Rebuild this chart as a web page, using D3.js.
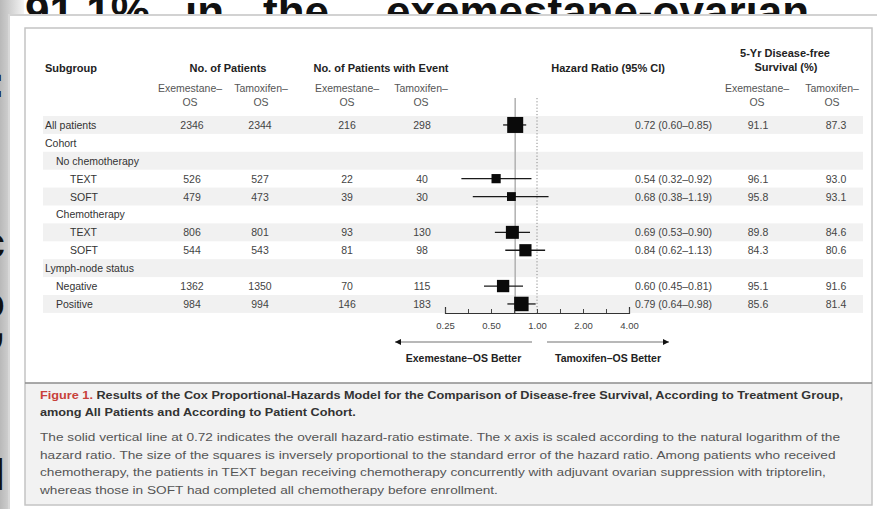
<!DOCTYPE html>
<html>
<head>
<meta charset="utf-8">
<script src="https://cdn.jsdelivr.net/npm/d3@7"></script>
<style>
  body { margin: 0; background: #fff; }
  svg { display: block; }
  .fig { font-family: "Liberation Sans", Arial, sans-serif; }
</style>
</head>
<body>
<svg id="chart" width="877" height="509"></svg>
<script>
// ---- data -------------------------------------------------------------
const subgroups = ["All patients", "Cohort", "No chemotherapy", "TEXT", "SOFT",
  "Chemotherapy", "TEXT", "SOFT", "Lymph-node status", "Negative", "Positive"];
const levels    = [0, 0, 1, 2, 2, 1, 2, 2, 0, 1, 1];
const patientsExe = [2346, null, null, 526, 479, null, 806, 544, null, 1362, 984];
const patientsTam = [2344, null, null, 527, 473, null, 801, 543, null, 1350, 994];
const eventsExe   = [216, null, null, 22, 39, null, 93, 81, null, 70, 146];
const eventsTam   = [298, null, null, 40, 30, null, 130, 98, null, 115, 183];
const hazard      = [0.72, null, null, 0.54, 0.68, null, 0.69, 0.84, null, 0.60, 0.79];
const ciLow       = [0.60, null, null, 0.32, 0.38, null, 0.53, 0.62, null, 0.45, 0.64];
const ciHigh      = [0.85, null, null, 0.92, 1.19, null, 0.90, 1.13, null, 0.81, 0.98];
const dfsExe      = [91.1, null, null, 96.1, 95.8, null, 89.8, 84.3, null, 95.1, 85.6];
const dfsTam      = [87.3, null, null, 93.0, 93.1, null, 84.6, 80.6, null, 91.6, 81.4];
const axisTicks   = [0.25, 0.5, 1, 2, 4];
const minorTicks  = [0.25, 0.3536, 0.5, 0.7071, 1, 1.4142, 2, 2.8284, 4];

const slideWords = ["91.1%", "in", "the", "exemestane-ovarian"];
const captionTitle = "Results of the Cox Proportional-Hazards Model for the Comparison of Disease-free Survival, According to Treatment Group,";
const captionTitle2 = "among All Patients and According to Patient Cohort.";
const captionBody = [
  "The solid vertical line at 0.72 indicates the overall hazard-ratio estimate. The x axis is scaled according to the natural logarithm of the",
  "hazard ratio. The size of the squares is inversely proportional to the standard error of the hazard ratio. Among patients who received",
  "chemotherapy, the patients in TEXT began receiving chemotherapy concurrently with adjuvant ovarian suppression with triptorelin,",
  "whereas those in SOFT had completed all chemotherapy before enrollment."
];

// ---- layout -----------------------------------------------------------
const svg = d3.select("#chart");
const defs = svg.append("defs");
const shade = defs.append("linearGradient").attr("id", "edgeShade");
shade.append("stop").attr("offset", "0").attr("stop-color", "#b9b9b9");
shade.append("stop").attr("offset", "1").attr("stop-color", "#f4f4f4");

// slide behind the figure
svg.append("rect").attr("width", 877).attr("height", 509).attr("fill", "#fff");
svg.append("rect").attr("width", 24).attr("height", 509).attr("fill", "url(#edgeShade)");

const slideText = svg.append("text")
  .attr("y", 27)
  .attr("font-family", "Liberation Sans, Arial, sans-serif")
  .attr("font-weight", "bold").attr("font-size", 44).attr("fill", "#111");
const wordX = [25, 185, 263, 386];
slideWords.forEach((w, i) => slideText.append("tspan").attr("x", wordX[i]).text(w));

// fragments of the slide's text lines peeking out at the left edge
const edge = svg.append("g")
  .attr("font-family", "Liberation Sans, Arial, sans-serif")
  .attr("font-weight", "bold").attr("font-size", 44).attr("fill", "#111")
  .attr("text-anchor", "end");
[[":", 97], ["c", 258], ["o", 318], [",", 340], ["l", 490]].forEach(([t, yy]) =>
  edge.append("text").attr("x", 5).attr("y", yy).text(t));

// figure panel
svg.append("rect").attr("x", 8).attr("y", 14).attr("width", 869).attr("height", 495)
  .attr("fill", "#fff");
svg.append("line").attr("x1", 8).attr("x2", 877).attr("y1", 15).attr("y2", 15)
  .attr("stroke", "#d2d2d2").attr("stroke-width", 2);
svg.append("line").attr("x1", 9).attr("x2", 9).attr("y1", 14).attr("y2", 509)
  .attr("stroke", "#d8d8d8").attr("stroke-width", 2);

const fig = svg.append("g").attr("class", "fig");

// caption box
fig.append("rect").attr("x", 25).attr("y", 383).attr("width", 847).attr("height", 122)
  .attr("fill", "#f2f2f2");
fig.append("rect").attr("x", 25).attr("y", 28).attr("width", 847).attr("height", 477)
  .attr("fill", "none").attr("stroke", "#c4c4c4").attr("stroke-width", 1.5);
fig.append("line").attr("x1", 25).attr("x2", 872).attr("y1", 383).attr("y2", 383)
  .attr("stroke", "#8c8c8c").attr("stroke-width", 1.5);

// scales
const rows = d3.range(subgroups.length);
const y = d3.scaleBand().domain(rows).range([116, 116 + 17.9 * rows.length]);
const cy = i => y(i) + y.bandwidth() / 2;
const x = d3.scaleLog().domain([0.25, 4]).range([445, 629]);

// inverse standard error from the 95% CI on the log scale
const invSE = rows.map(i => hazard[i] == null ? 0 :
  (2 * 1.96) / (Math.log(ciHigh[i]) - Math.log(ciLow[i])));
const side = d3.scaleSqrt().domain([0, d3.max(invSE)]).range([0, 16]);

// alternating row bands
fig.append("g").selectAll("rect").data(rows.filter(i => i % 2 === 0)).join("rect")
  .attr("x", 43).attr("width", 820)
  .attr("y", d => y(d)).attr("height", y.bandwidth())
  .attr("fill", "#f1f1f1");

// headers
const hdr = fig.append("g").attr("font-weight", "bold").attr("font-size", 11).attr("fill", "#222");
hdr.append("text").attr("x", 45).attr("y", 72).text("Subgroup");
hdr.append("text").attr("x", 228).attr("y", 72).attr("text-anchor", "middle").text("No. of Patients");
hdr.append("text").attr("x", 381).attr("y", 72).attr("text-anchor", "middle").text("No. of Patients with Event");
hdr.append("text").attr("x", 665).attr("y", 72).attr("text-anchor", "end").text("Hazard Ratio (95% CI)");
hdr.append("text").attr("x", 785).attr("y", 57).attr("text-anchor", "middle").text("5-Yr Disease-free");
hdr.append("text").attr("x", 786).attr("y", 71).attr("text-anchor", "middle").text("Survival (%)");

const sub = fig.append("g").attr("font-size", 10.5).attr("fill", "#555").attr("text-anchor", "middle");
[[190, 261], [347, 421], [757, 832]].forEach(([a, b]) => {
  sub.append("text").attr("x", a).attr("y", 92).text("Exemestane–");
  sub.append("text").attr("x", b).attr("y", 92).text("Tamoxifen–");
  sub.append("text").attr("x", a).attr("y", 106).text("OS");
  sub.append("text").attr("x", b).attr("y", 106).text("OS");
});

// table body
const body = fig.append("g").attr("font-size", 10.5).attr("fill", "#444");
const indent = [0, 11, 25];
body.selectAll("text.lab").data(rows).join("text").attr("class", "lab")
  .attr("x", i => 45 + indent[levels[i]]).attr("y", i => cy(i) + 4)
  .attr("fill", "#333").text(i => subgroups[i]);

const cols = [
  { vals: patientsExe, x: 192, fmt: String },
  { vals: patientsTam, x: 260, fmt: String },
  { vals: eventsExe, x: 347, fmt: String },
  { vals: eventsTam, x: 422, fmt: String },
  { vals: dfsExe, x: 758, fmt: v => v.toFixed(1) },
  { vals: dfsTam, x: 836, fmt: v => v.toFixed(1) }
];
cols.forEach(c => {
  body.append("g").attr("text-anchor", "middle").selectAll("text")
    .data(rows.filter(i => c.vals[i] != null)).join("text")
    .attr("x", c.x).attr("y", i => cy(i) + 4).text(i => c.fmt(c.vals[i]));
});
body.append("g").attr("text-anchor", "end").selectAll("text")
  .data(rows.filter(i => hazard[i] != null)).join("text")
  .attr("x", 712).attr("y", i => cy(i) + 4)
  .text(i => `${hazard[i].toFixed(2)} (${ciLow[i].toFixed(2)}–${ciHigh[i].toFixed(2)})`);

// forest plot
const plotTop = 98, plotBottom = 313;
fig.append("line").attr("x1", x(hazard[0])).attr("x2", x(hazard[0]))
  .attr("y1", plotTop).attr("y2", plotBottom)
  .attr("stroke", "#b5b5b5").attr("stroke-width", 1.6);
fig.append("line").attr("x1", x(1)).attr("x2", x(1))
  .attr("y1", plotTop).attr("y2", plotBottom)
  .attr("stroke", "#8a8a8a").attr("stroke-width", 1).attr("stroke-dasharray", "1.2,2");

const est = rows.filter(i => hazard[i] != null);
fig.append("g").selectAll("line").data(est).join("line")
  .attr("x1", i => x(ciLow[i])).attr("x2", i => x(ciHigh[i]))
  .attr("y1", cy).attr("y2", cy)
  .attr("stroke", "#1a1a1a").attr("stroke-width", 1.3);
fig.append("g").selectAll("rect").data(est).join("rect")
  .attr("x", i => x(hazard[i]) - side(invSE[i]) / 2)
  .attr("y", i => cy(i) - side(invSE[i]) / 2)
  .attr("width", i => side(invSE[i])).attr("height", i => side(invSE[i]))
  .attr("fill", "#0a0a0a");

// log axis, ticks pointing up
const axis = d3.axisBottom(x).tickValues(minorTicks).tickSizeInner(-4).tickSizeOuter(-6)
  .tickPadding(9).tickFormat(d => axisTicks.includes(d) ? d3.format(".2f")(d) : "");
const ax = fig.append("g").attr("transform", `translate(0,${plotBottom})`).call(axis);
ax.attr("font-family", null).attr("font-size", null);
ax.select(".domain").attr("stroke", "#333").attr("stroke-width", 1.2);
ax.selectAll(".tick line").attr("stroke", "#444");
ax.selectAll(".tick text").attr("font-size", 9.5).attr("fill", "#444");

// favour arrows
const arrowY = 342;
const leftArrow = [x.range()[0] - 50, x(1) - 5];
const rightArrow = [x(1) + 10, x.range()[1] + 40];
fig.append("line").attr("x1", leftArrow[0]).attr("x2", leftArrow[1])
  .attr("y1", arrowY).attr("y2", arrowY).attr("stroke", "#a0a0a0").attr("stroke-width", 1.5);
fig.append("line").attr("x1", rightArrow[0]).attr("x2", rightArrow[1])
  .attr("y1", arrowY).attr("y2", arrowY).attr("stroke", "#a0a0a0").attr("stroke-width", 1.5);
fig.append("path")
  .attr("d", `M${leftArrow[0]},${arrowY} l6,-3 v6 z`).attr("fill", "#111");
fig.append("path")
  .attr("d", `M${rightArrow[1]},${arrowY} l-6,-3 v6 z`).attr("fill", "#111");
const fav = fig.append("g").attr("font-weight", "bold").attr("font-size", 10.5)
  .attr("fill", "#222").attr("text-anchor", "middle");
fav.append("text").attr("x", d3.mean(leftArrow)).attr("y", 362).text("Exemestane–OS Better");
fav.append("text").attr("x", d3.mean(rightArrow)).attr("y", 362).text("Tamoxifen–OS Better");

// caption
const cap1 = fig.append("text").attr("x", 40).attr("y", 399)
  .attr("font-size", 10.5).attr("font-weight", "bold").attr("fill", "#333");
cap1.append("tspan").attr("fill", "#c8413a").text("Figure 1.");
cap1.append("tspan").text(" " + captionTitle);
const cap1Natural = cap1.node().getComputedTextLength();
const titleRatio = 803 / cap1Natural;
cap1.attr("textLength", 803).attr("lengthAdjust", "spacingAndGlyphs");
const cap2 = fig.append("text").attr("x", 40).attr("y", 416)
  .attr("font-size", 10.5).attr("font-weight", "bold").attr("fill", "#333").text(captionTitle2);
cap2.attr("textLength", cap2.node().getComputedTextLength() * titleRatio)
  .attr("lengthAdjust", "spacingAndGlyphs");

const bodyLines = fig.append("g").attr("font-size", 10).attr("fill", "#555");
let bodyRatio = 1;
captionBody.forEach((line, i) => {
  const t = bodyLines.append("text").attr("x", 40).attr("y", 441 + i * 17.6).text(line);
  const w = t.node().getComputedTextLength();
  if (i === 0) bodyRatio = 800 / w;
  t.attr("textLength", w * bodyRatio).attr("lengthAdjust", "spacingAndGlyphs");
});
</script>
</body>
</html>
